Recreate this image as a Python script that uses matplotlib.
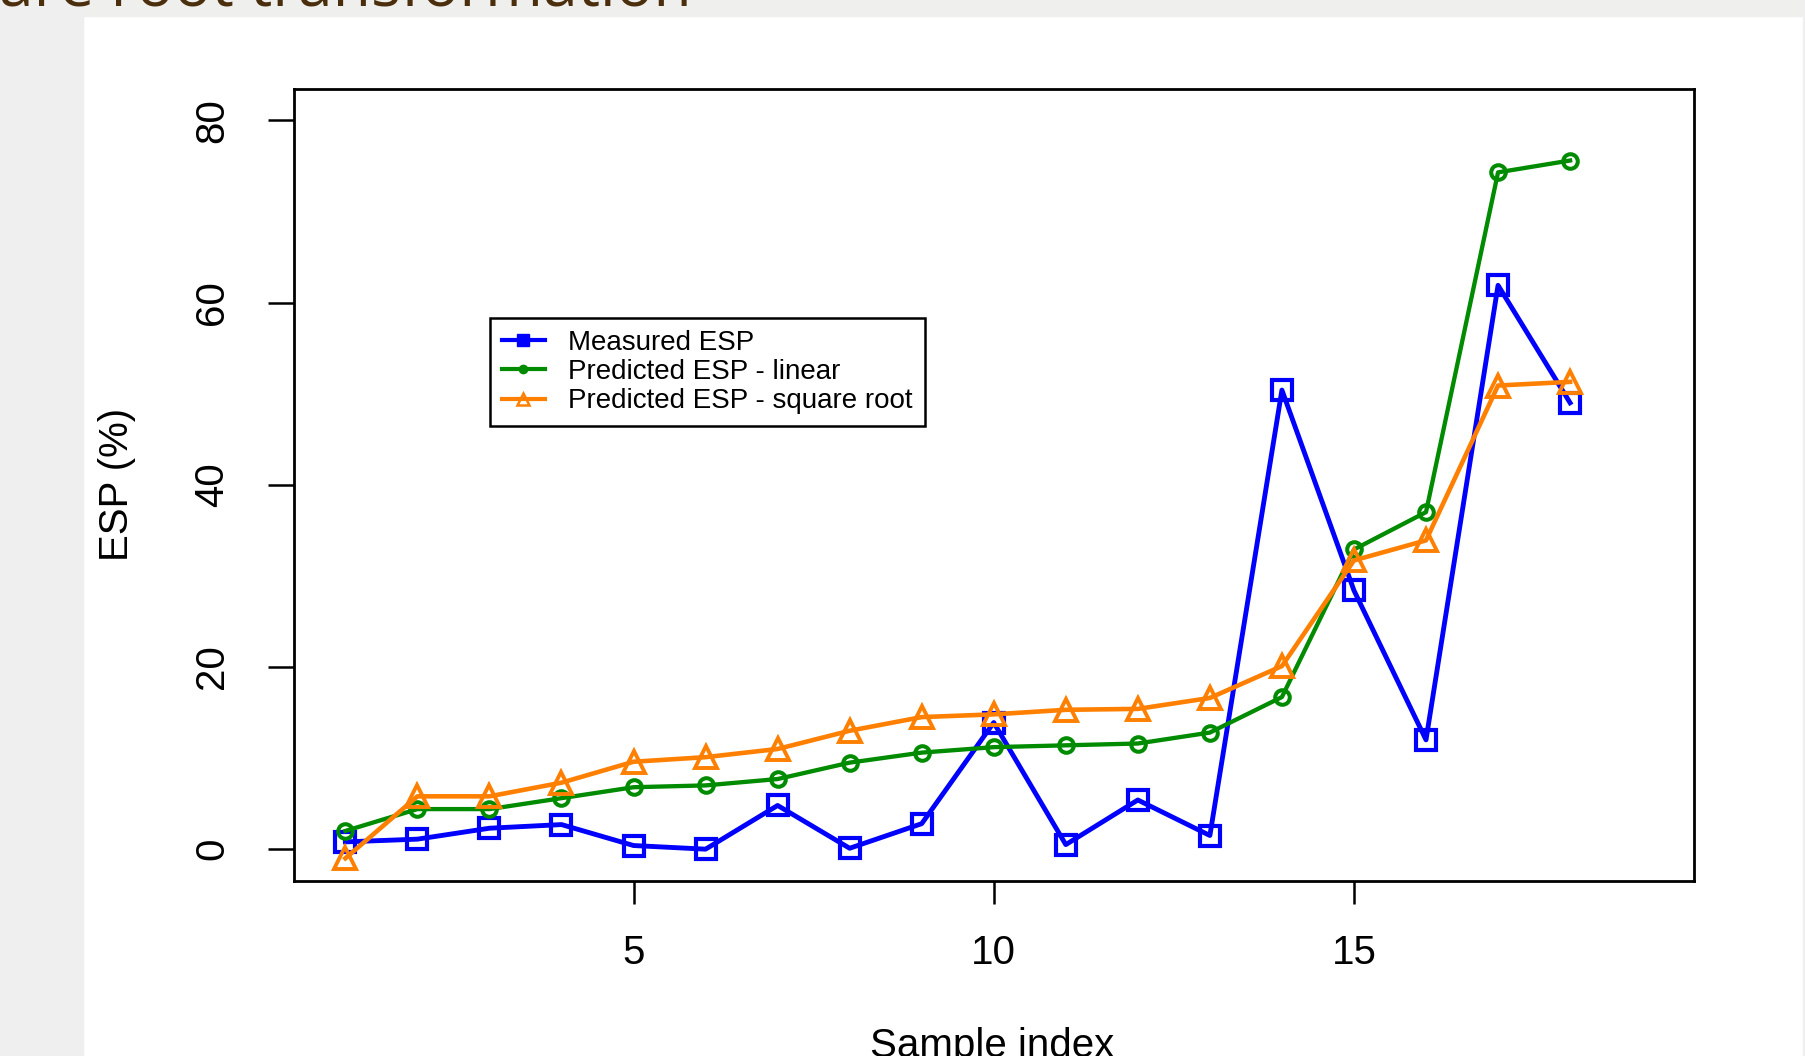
import matplotlib
matplotlib.use("Agg")
import matplotlib.pyplot as plt
from matplotlib.lines import Line2D
from matplotlib.patches import Rectangle

# values
sample = list(range(1, 19))
measured = [0.8, 1.1, 2.3, 2.7, 0.4, 0.0, 4.8, 0.1, 2.8, 13.9,
            0.5, 5.4, 1.5, 50.4, 28.4, 12.0, 61.9, 49.0]
pred_linear = [2.0, 4.4, 4.4, 5.6, 6.8, 7.0, 7.7, 9.5, 10.6, 11.2,
               11.4, 11.6, 12.8, 16.7, 32.9, 37.0, 74.3, 75.6]
pred_sqrt = [-1.0, 5.8, 5.8, 7.3, 9.6, 10.1, 11.0, 13.0, 14.5, 14.8,
             15.3, 15.4, 16.6, 20.1, 31.7, 33.9, 50.9, 51.3]
labels = ["Measured ESP", "Predicted ESP - linear", "Predicted ESP - square root"]
xticks = [5, 10, 15]
yticks = [0, 20, 40, 60, 80]

W, H = 1805, 1056
fig = plt.figure(figsize=(W / 100, H / 100), dpi=100, facecolor="white")
plt.rcParams["font.family"] = ["Liberation Sans", "DejaVu Sans"]

# slide background bits around the pasted R plot
fig.patches.append(Rectangle((0, 1 - 16 / H), 1, 16 / H, transform=fig.transFigure,
                             color="#efefee", zorder=0))
fig.patches.append(Rectangle((0, 0), 83 / W, 1, transform=fig.transFigure,
                             color="#efefef", zorder=0))
fig.patches.append(Rectangle((1 - 2 / W, 0), 2 / W, 1, transform=fig.transFigure,
                             color="#efefef", zorder=0))
fig.text(692 / W, 1 - 6 / H, "Square root transformation", ha="right", va="baseline",
         fontsize=45, color="#4b2e0c", family="Open Sans")

ax = fig.add_axes([293.5 / W, 1 - 880.6 / H, (1694 - 293.5) / W, (880.6 - 89) / H])
ax.plot(sample, measured, color="#0000ff", lw=3.5, marker="s", ms=14,
        mfc="none", mew=3.0)
ax.plot(sample, pred_linear, color="#008b00", lw=3.1, marker="o", ms=10.5,
        mfc="none", mew=2.9)
ax.plot(sample, pred_sqrt, color="#ff8000", lw=3.3, marker="^", ms=16,
        mfc="none", mew=2.8)

ax.set_xlim(0.28, 19.72)
ax.set_ylim(-3.45, 83.45)
ax.set_xticks(xticks)
ax.set_yticks(yticks)
for s in ax.spines.values():
    s.set_linewidth(2.0)
ax.tick_params(axis="x", length=16.5, width=1.8, pad=22, labelsize=29)
ax.tick_params(axis="y", length=18.7, width=1.8, pad=26, labelsize=29,
               labelrotation=90)
for t in ax.get_yticklabels():
    t.set_va("center")

fig.text(992 / W, 1 - 1057 / H, "Sample index", ha="center", va="baseline", fontsize=29)
fig.text(117 / W, 1 - 484 / H, "ESP (%)", ha="center", va="center", rotation=90,
         fontsize=29)

handles = [
    Line2D([], [], color="#0000ff", lw=3.0, marker="s", ms=8),
    Line2D([], [], color="#008b00", lw=3.0, marker="o", ms=6),
    Line2D([], [], color="#ff8000", lw=3.0, marker="^", ms=8, mfc="none", mew=1.8),
]
leg = fig.legend(handles, labels, loc="upper left",
                 bbox_to_anchor=(490 / W, 1 - 318 / H), fontsize=20,
                 handlelength=1.55, handletextpad=0.85, labelspacing=0.12,
                 borderpad=0.42, borderaxespad=0, fancybox=False, framealpha=1,
                 edgecolor="black")
leg.get_frame().set_linewidth(1.8)

fig.savefig("out.png", dpi=100, facecolor=fig.get_facecolor())
